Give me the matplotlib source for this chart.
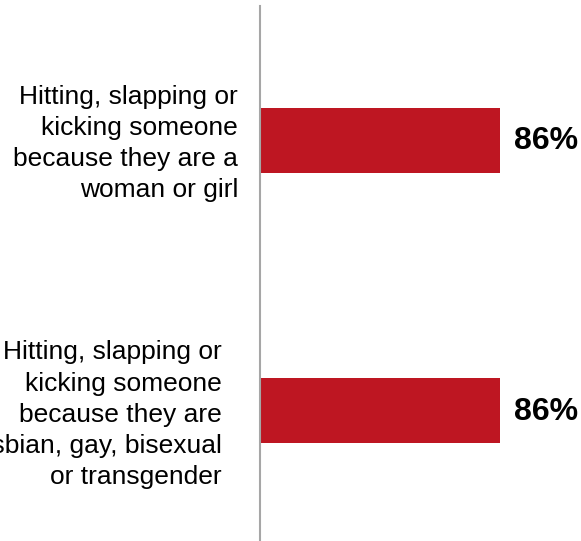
import matplotlib
matplotlib.use("Agg")
import matplotlib.pyplot as plt

categories = [
    "Hitting, slapping or\nkicking someone\nbecause they are a\nwoman or girl",
    "Hitting, slapping or\nkicking someone\nbecause they are\nlesbian, gay, bisexual\nor transgender",
]
values = [86, 86]
value_labels = ["86%", "86%"]

plt.rcParams['font.family'] = ['Liberation Sans', 'DejaVu Sans']

W, H = 581, 541
fig = plt.figure(figsize=(W / 100, H / 100), dpi=100)
ax = fig.add_axes([260 / W, 0, 279 / W, 535 / H])

ypos = list(range(len(categories)))
ax.barh(ypos, values, height=0.24, color="#BE1622", zorder=2)
ax.set_xlim(0, 100)
ax.set_ylim(1.483, -0.498)

for s in ["top", "right", "bottom"]:
    ax.spines[s].set_visible(False)
ax.spines["left"].set_color("#A6A6A6")
ax.spines["left"].set_linewidth(1.5)
ax.set_xticks([])
ax.set_yticks([])

label_right = [238, 222]
label_dy = [-3, -4]
for y, lab, xr, dy in zip(ypos, categories, label_right, label_dy):
    ax.annotate(lab, xy=(0, y), xycoords=("axes fraction", "data"),
                xytext=(xr - 260, dy), textcoords="offset pixels",
                ha="right", va="center", fontsize=19, linespacing=1.37,
                color="black", annotation_clip=False)

for y, v, t in zip(ypos, values, value_labels):
    ax.annotate(t, xy=(v, y), xytext=(14, -1), textcoords="offset pixels",
                ha="left", va="center", fontsize=23, fontweight="bold",
                color="black", annotation_clip=False)

fig.savefig("out.png", dpi=100)
